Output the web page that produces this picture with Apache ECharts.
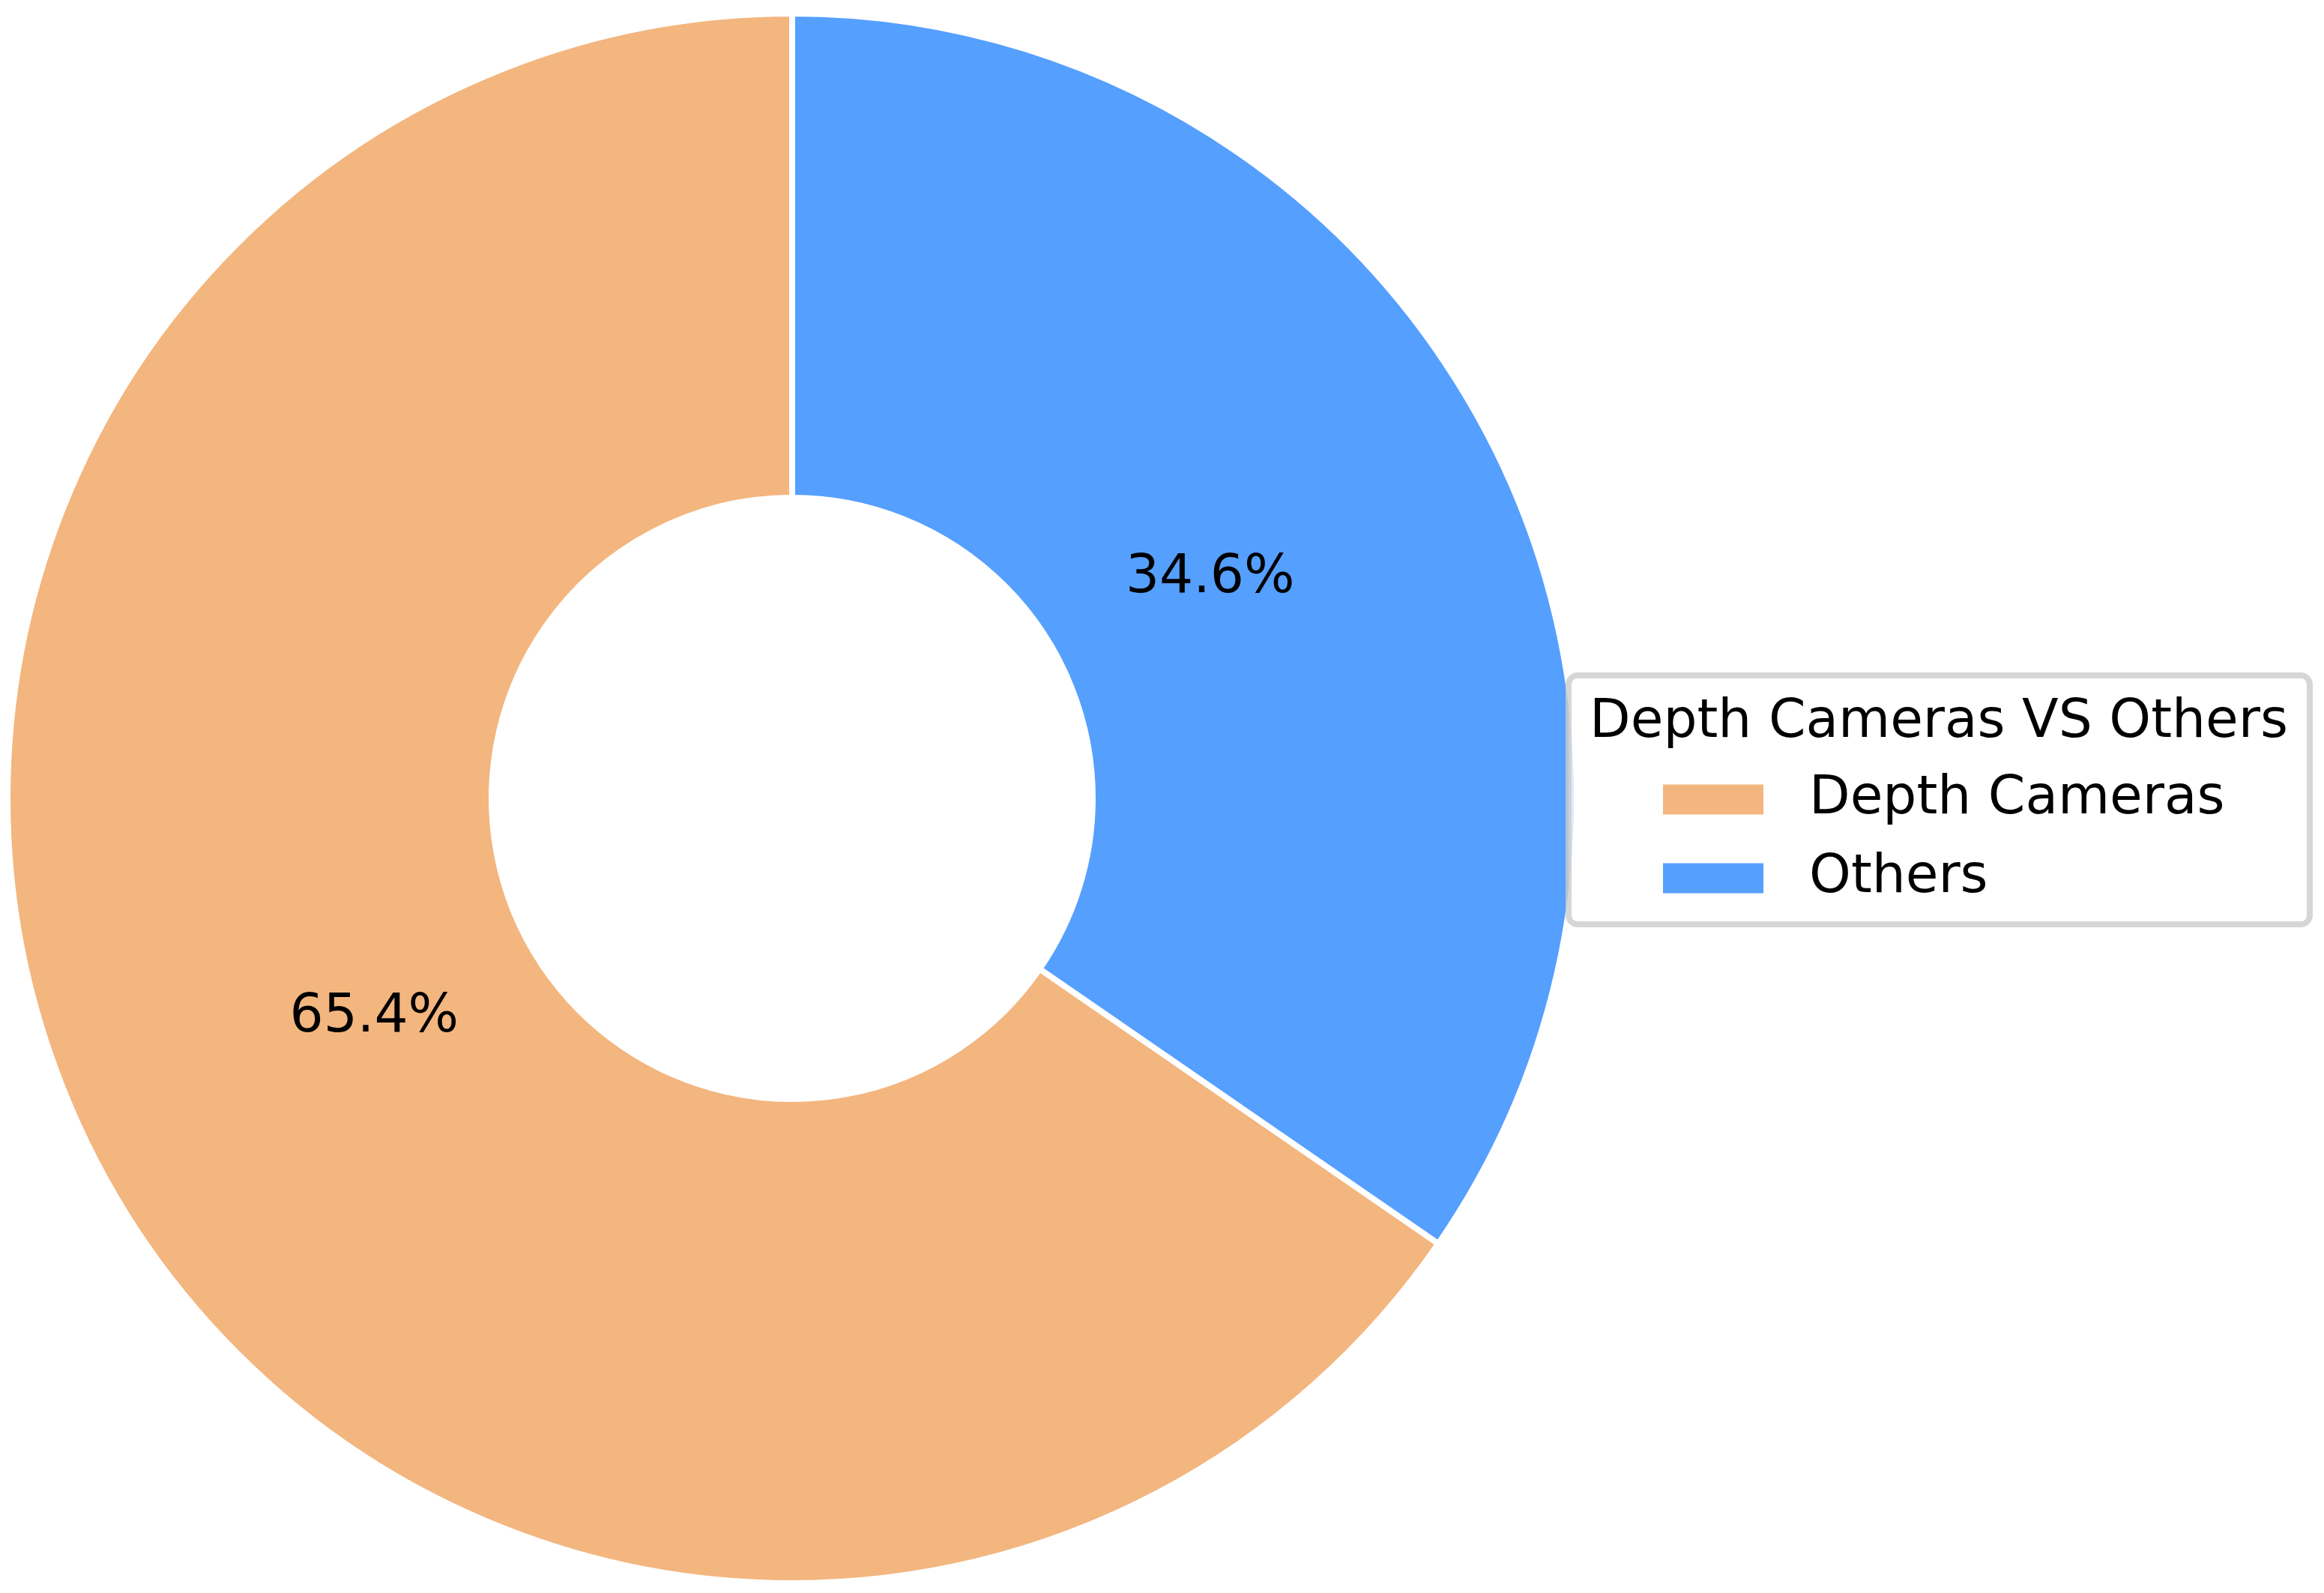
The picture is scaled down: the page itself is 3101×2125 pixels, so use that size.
<!DOCTYPE html>
<html>
<head>
<meta charset="utf-8">
<script src="https://cdn.jsdelivr.net/npm/echarts@6/dist/echarts.min.js"></script>
<style>
html,body{margin:0;padding:0;background:#fff;}
#c{width:3101px;height:2125px;}
</style>
</head>
<body>
<div id="c"></div>
<script>
const categories = ['Depth Cameras', 'Others'];
const values = [65.4, 34.6];
const colors = ['#F3B67F', '#559FFF'];
const legendTitle = 'Depth Cameras VS Others';

const FONT = 'DejaVu Sans';
const data = categories.map((n, i) => ({ name: n, value: values[i], itemStyle: { color: colors[i] } }));
const center = [1057, 1065];

const chart = echarts.init(document.getElementById('c'), null, { renderer: 'canvas' });
chart.setOption({
  animation: false,
  backgroundColor: '#ffffff',
  title: {
    text: legendTitle,
    left: 2587, top: 965,
    textAlign: 'center', textVerticalAlign: 'middle',
    textStyle: { fontFamily: FONT, fontSize: 71, fontWeight: 'normal', color: '#000' },
    padding: 0, z: 200
  },
  legend: {
    orient: 'vertical',
    left: 2217, top: 1031,
    itemWidth: 136, itemHeight: 42, itemGap: 34,
    icon: 'rect',
    padding: 0,
    data: categories,
    textStyle: { fontFamily: FONT, fontSize: 71, color: '#000', lineHeight: 70, padding: [0, 0, 0, 55] },
    z: 200
  },
  graphic: [{
    type: 'rect', z: 100,
    shape: { x: 2093, y: 901, width: 989, height: 332, r: 12 },
    style: { fill: 'rgba(255,255,255,0.8)', stroke: 'rgba(204,204,204,0.8)', lineWidth: 8 }
  }],
  series: [{
    type: 'pie',
    name: 'main',
    center: center,
    radius: [401, 1047],
    startAngle: 90,
    clockwise: false,
    label: { show: false },
    labelLine: { show: false },
    emphasis: { scale: false },
    itemStyle: { borderColor: '#ffffff', borderWidth: 8 },
    data: data,
    z: 2
  }, {
    type: 'pie',
    name: 'labels',
    center: center,
    radius: [617, 637],
    startAngle: 90,
    clockwise: false,
    silent: true,
    itemStyle: { color: 'rgba(0,0,0,0)', borderWidth: 0 },
    label: {
      show: true, position: 'inside',
      fontFamily: FONT, fontSize: 71, color: '#000',
      formatter: p => p.percent.toFixed(1) + '%'
    },
    labelLine: { show: false },
    emphasis: { disabled: true },
    data: categories.map((n, i) => ({ name: n, value: values[i] })),
    z: 3
  }]
});
</script>
</body>
</html>
